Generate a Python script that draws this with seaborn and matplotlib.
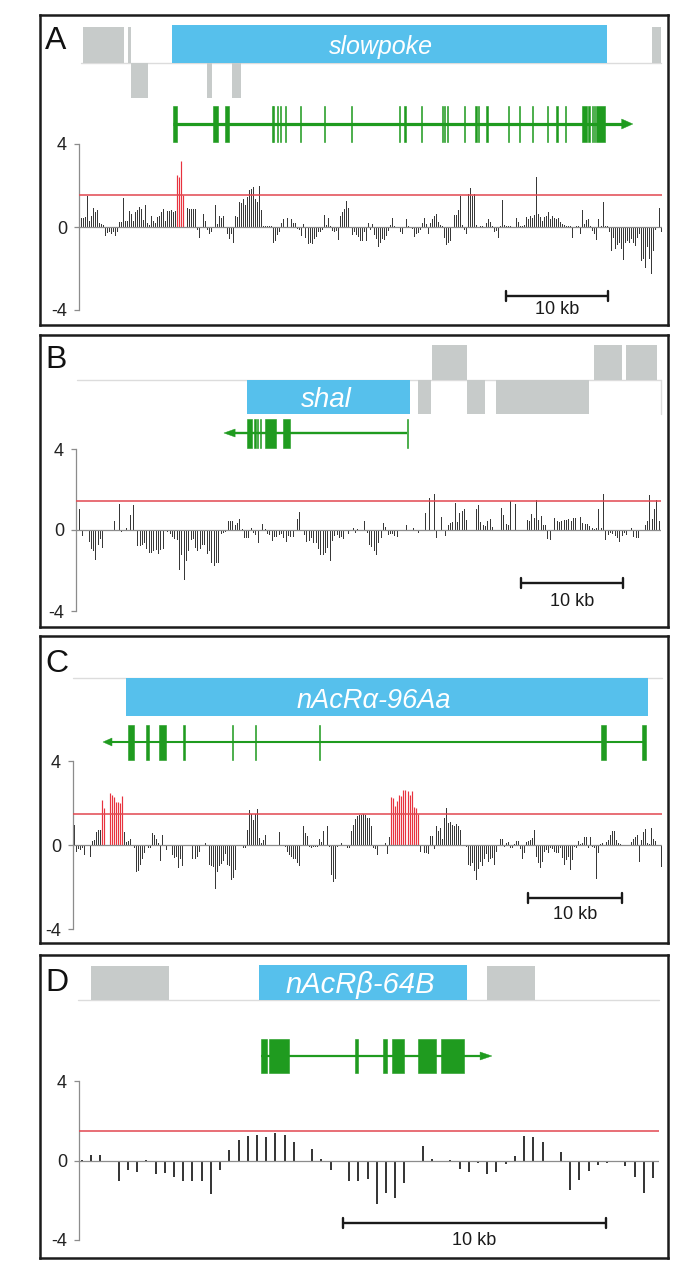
import numpy as np
import pandas as pd
import matplotlib
matplotlib.use("Agg")
import matplotlib.pyplot as plt
from matplotlib.patches import Rectangle, Polygon
import seaborn as sns

# ======================= DATA =======================
# ---- Panel A : slowpoke (kb coordinates) ----
A_upper_boxes = [(0.4, 4.4), (4.8, 5.1), (56.2, 57.1)]
A_lower_boxes = [(5.1, 6.8), (12.5, 13.0), (15.0, 15.9)]
A_gene_box = (9.1, 51.8)
A_gene_name = "slowpoke"
A_transcript = (9.2, 53.2, 54.3)          # start, arrow base, arrow tip
A_exons = [(9.2, 9.6), (13.1, 13.6), (14.3, 14.7), (18.9, 19.0), (19.05, 19.15),
           (19.4, 19.5), (19.75, 19.85), (20.15, 20.25), (21.7, 21.8), (24.0, 24.1),
           (26.65, 26.75), (31.35, 31.45), (31.9, 32.1), (33.5, 33.6), (35.55, 35.65),
           (35.8, 35.9), (36.05, 36.15), (37.7, 37.8), (38.85, 39.05), (39.1, 39.2),
           (39.95, 40.05), (42.05, 42.15), (43.1, 43.2), (44.4, 44.5), (45.85, 45.95),
           (46.8, 47.0), (47.6, 47.7), (49.3, 49.8), (49.95, 50.05), (50.25, 50.35),
           (50.45, 50.55), (50.7, 51.6)]
A_probe_span = (0.17, 57.03)
A_vals_pre = [0.45, 0.45, 0.5, 1.5, 0.3, 0.55, 0.9, 0.7, 0.8, 0.2,
              0.15, 0.1, -0.4, -0.25, -0.2, -0.3, -0.2, -0.4, -0.2, 0.25,
              0.25, 1.4, 0.3, 0.3, 0.75, 0.65, 0.3, 0.7, 0.8, 0.95,
              0.85, 0.35, 1.05, 0.2, 0.1, 0.55, 0.3, 0.2, 0.5, 0.55,
              0.7, 0.85, 0.3, 0.75, 0.75, 0.8, 0.7, 0.75]
A_vals_sig = [2.5, 2.4, 3.2, 1.55]
A_vals_post = [0, 0.9, 0.85, 0.85, 0.85, 0.85, -0.1, -0.5, 0, 0.65,
               0.3, -0.1, -0.3, -0.2, 0, 1.05, 0.15, 0.55, 0.45, 0.55,
               0, -0.3, -0.55, -0.3, -0.7, 0.55, 0.5, 1.2, 1.15, 1.35,
               1.05, 1.45, 1.8, 1.85, 1.95, 1.35, 1.2, 2.0, 0.8, 0.05,
               0.05, 0.05, 0.05, 0.05, -0.7, -0.65, -0.35, -0.2, 0.2, 0.4,
               0, 0.45, 0, 0.4, 0.2, 0.2, -0.05, -0.1, -0.4, 0.15,
               -0.5, -0.75, -0.7, -0.75, -0.55, -0.45, -0.2, -0.2, -0.1, 0.6,
               0.1, 0.45, 0.05, -0.15, -0.2, -0.15, -0.6, 0.55, 0.7, 0.85,
               1.25, 0.9, 0, -0.35, -0.2, -0.35, -0.45, -0.65, -0.65, -0.2,
               -0.65, 0.2, -0.1,
               0.15, -0.35, -0.55, -0.9, -0.7, -0.55, -0.6, -0.4, -0.15, 0.1,
               0.45, 0.05, 0, 0, -0.2, -0.3, 0, 0.4, 0.05, 0,
               -0.05, -0.45, -0.3, -0.25, -0.1, 0.2, 0.45, 0.15, -0.3, 0.2,
               0.4, 0.55, 0.65, 0.25, 0.1, 0.05, -0.5, -0.8, -0.7, -0.65,
               0, 0.6, 0.6, 0.8, 1.5, 0.1, -0.1, -0.3, 1.6, 1.9,
               1.5, 1.6, 0.1, 0, 0.05, 0.05, 0, 0.2, 0.4, 0.25,
               0.05, -0.2, -0.15, -0.5, 0.05, 1.3, 0.1, 0.05, 0.05, 0.05,
               0, 0, 0.45, 0.25, 0.05, 0.05, 0.1, 0.5, 0.4, 0.55,
               0.45, 0.6, 2.4, 0.65, 0.5, 0.3, 0.5, 0.55, 0.7, 0.4,
               0.55, 0.45, 0.4, 0.45, 0.25, 0.15, 0.1, 0.05, 0.05, 0.05,
               -0.5, 0, 0.05, 0.05, -0.3, 0.8, 0.15, 0.35, 0.4, 0.05,
               -0.15, -0.3, -0.6, 0.4, 0.05, 1.2, 0.05, 0.05, -0.2, -1.1,
               -0.5, -1.0, -0.8, -0.7, -1.0, -1.55, -0.7, -0.65, -0.7, -0.55,
               -0.7, -0.85, -0.5, -0.3, -1.6, -1.5, -1.95, -0.9, -1.5, -2.2,
               -1.1, -0.1, 0, 0.9, -0.2]
A_threshold = 1.52
A_scale = (41.9, 51.9)

# ---- Panel B : shal ----
B_upper_boxes = [(34.9, 38.3), (50.8, 53.5), (53.9, 57.0)]
B_lower_boxes = [(33.5, 34.8), (38.3, 40.1), (41.2, 50.3)]
B_gene_box = (16.8, 32.7)
B_gene_name = "shal"
B_transcript = (32.5, 15.6, 14.5)
B_exons = [(16.74, 17.28), (17.5, 17.6), (17.73, 17.83), (18.0, 18.1),
           (18.56, 19.6), (20.33, 21.0), (32.45, 32.55)]
B_probe_span = (0.32, 57.13)
B_vals = [1.05, -0.25, 0, 0, -0.55, -0.9, -1.0, -1.45, -0.7, -0.4,
          -0.85, 0, 0, 0, 0, 0.45, 0, 1.3, -0.05, 0,
          0.1, 0, 0.75, 1.25, 0, -0.75, -0.75, -0.7, -0.6, -0.9,
          -1.1, -1.1, -1.0, -0.95, -1.15, -0.95, -0.9, 0, -0.05, -0.15,
          -0.3, -0.4, -0.45, -1.95, -1.2, -2.4, -1.5, -1.0, -0.45, -0.4,
          -0.85, -1.0, -0.9, -0.7, -0.7, -1.15, -1.0, -1.6, -1.75, -1.6,
          -1.6, -0.15, -0.1, -0.05, 0.45, 0.45, 0.45, 0.25, 0.35, 0.55,
          0.05, -0.35, -0.35, -0.35, 0.1, -0.1, -0.2, -0.6, 0, 0.3,
          0.05, -0.15, -0.2, -0.5, -0.3, -0.3, -0.2, -0.15, -0.35, -0.55,
          -0.25, -0.3, -0.3, 0, 0.55, 0.9, 0, -0.2, -0.55, -0.5,
          -0.35, -0.6, -0.6, -0.9, -1.2, -1.2, -1.1, -0.85, -1.5, -0.5,
          -0.25, -0.2, -0.35, -0.3, -0.4, 0, -0.15, 0, 0.1, -0.1,
          0.05, 0, 0, 0.45, -0.1,
          -0.7, -0.8, -1.0, -1.2, -0.6, -0.35, 0.35, 0.15, -0.2, -0.15,
          -0.15, -0.25, -0.3, 0, 0, 0, 0.25, 0, 0, 0.1,
          0, -0.1, 0, 0, 0.85, 0, 1.6, 0, 1.8, -0.35,
          0, 0.65, 0, -0.25, 0.25, 0.35, 0.4, 1.35, 0.4, 0.85,
          0.95, 1.05, 0.5, 0, 0, 0, 1.05, 1.25, 0.4, 0.25,
          0.2, 0.45, 0.55, 0.15, 0, 0, 0, 1.1, 0.75, 0.3,
          0.25, 1.45, 0, 1.3, 0, 0, 0, 0, 0.5, 0.45,
          0.8, 0.6, 1.5, 0.5, 0.7, 0.25, 0.25, -0.4, -0.45, 0,
          0.6, 0.45, 0.4, 0.45, 0.5, 0.5, 0.55, 0.45, 0.6, 0.6,
          0, 0.65, 0.35, 0.3, 0.3, 0.2, 0.1, 0.05, 0.1, 1.05,
          0.1, 1.8, -0.45, -0.2, -0.1, -0.15, -0.25, -0.35, -0.55, -0.25,
          -0.1, -0.2, 0, 0.1, -0.3, -0.35, -0.35, 0, 0, 0.25,
          0.45, 1.75, 0.55, 1.05, 1.5, 0.45]
B_threshold = 1.45
B_scale = (43.6, 53.6)

# ---- Panel C : nAcRalpha-96Aa ----
C_gene_box = (5.64, 61.17)
C_gene_name = "nAcRα-96Aa"
C_transcript = (61.0, 4.15, 3.19)
C_exons = [(5.85, 6.49), (7.77, 8.09), (9.15, 9.89), (11.75, 11.9), (16.95, 17.05),
           (19.35, 19.45), (26.15, 26.3), (56.2, 56.7), (60.5, 61.0)]
C_probe_span = (0.1, 62.52)
C_vals_1 = [0.95, -0.3, -0.15, -0.2, -0.1, -0.45, 0, 0, -0.5, 0.2, 0.25, 0.6, 0.7, 0.7]
C_sig_1 = [2.15, 1.75, 0, 0, 2.5, 2.4, 2.3, 2.05, 2.05, 2.0, 2.35]
C_vals_2 = [0.6, 0.15, 0.2, 0.3, 0, -0.1, -1.25, -1.2, -0.9, -0.6,
            -0.35, 0, -0.1, -0.1, 0.55, 0.5, 0.3, 0.1, -0.7, 0.5,
            0, -0.2, 0, 0, -0.45, -0.55, -0.5, -1.05, -0.6, -0.95,
            0, 0, 0, 0, -0.6, -0.6, -0.5, -0.3, 0, 0,
            0.1, 0, -0.9, -0.95, -1.0, -2.05, -1.25, -0.95, -0.85, -0.7,
            -0.4, -0.9, -0.95, -1.6, -1.5, -1.15, 0, 0, 0, -0.1,
            -0.1, 0.7, 1.65, 1.5, 1.2, 1.5, 1.7, 0.35, 0.1, 0.25,
            0.5, 0, 0, 0, 0, 0, 0, 0.6, 0, 0,
            -0.05, -0.3, -0.45, -0.5, -0.6, -0.6, -0.8, -0.95, 0, 0.9,
            0.55, 0.45, -0.05, -0.1, -0.05, -0.05, -0.05, 0.3, 0.15, 0.65,
            0, 0.9, -0.05, -1.4, -1.7, -1.55, -0.05, 0, 0.1, 0,
            0, -0.1, -0.1, 0.65, 0.95, 1.25, 1.4, 1.45, 1.45, 1.5,
            1.45, 1.3, 1.3,
            0.9, -0.1, -0.15, -0.45, 0, 0, 0, 0.1, -0.4, 0.4]
C_sig_2 = [2.3, 2.25, 1.85, 2.1, 2.4, 2.35, 2.6, 2.6, 2.55, 2.4, 2.55, 1.8, 1.75, 1.5]
C_vals_3 = [-0.3, 0, -0.35, -0.35, -0.4, 0.45, 0.45, -0.15, 0.9, 0.65,
            0.8, 0.3, 1.3, 1.75, 1.05, 1.1, 0.95, 0.9, 1.0, 0.9,
            0.7, 0, 0, -0.05, -0.9, -0.95, -0.8, -1.2, -1.6, -1.1,
            -0.75, -0.95, -0.6, -0.4, -0.75, -0.6, -0.55, -0.9, -0.3, 0,
            0.3, 0.3, -0.05, 0.1, 0.15, -0.1, -0.1, 0.05, 0.2, 0.2,
            -0.15, -0.6, -0.35, 0.15, 0.2, 0.25, 0.35, 0.7, -0.5, -0.8,
            -1.05, -0.75, -0.3, -0.2, -0.35, -0.1, -0.15, -0.3, -0.35, -0.35,
            -0.1, -0.55, -0.9, -0.65, -0.5, -1.15, -0.65, -0.05, -0.1, 0.2,
            0.05, 0.1, 0.4, 0.4, -0.1, 0.4, -0.05, -0.1, -1.55, -0.35,
            0.05, 0.1, 0, 0.15, 0.25, 0.5, 0.65, 0.65, 0.25, 0.1,
            0.05, 0, 0, 0, 0, 0.15, 0.3, 0.4, 0.5, -0.75,
            0.25, 0.6, 0.75, 0.1, 0.05, 0.8, 0.3, 0.2, 0, 0,
            -1.0]
C_threshold = 1.5
C_scale = (48.4, 58.4)

# ---- Panel D : nAcRbeta-64B ----
D_upper_boxes = [(0.46, 3.42), (15.51, 17.34)]
D_gene_box = (6.84, 14.75)
D_gene_name = "nAcRβ-64B"
D_transcript = (6.92, 15.25, 15.7)
D_exons = [(6.92, 7.15), (7.22, 7.98), (10.49, 10.6), (11.56, 11.71),
           (11.9, 12.36), (12.89, 13.57), (13.76, 14.64)]
D_probe_span = (0.11, 21.83)
D_vals = [0.05, 0.3, 0.3, -0.05, -1.05, -0.5, -0.6, 0.05, -0.7, -0.65,
          -0.85, -1.05, -1.05, -1.05, -1.7, -0.5, 0.55, 1.05, 1.25, 1.3,
          1.2, 1.4, 1.3, 0.95, 0.0, 0.6, 0.1, -0.5, 0.0, -1.05,
          -1.05, -0.95, -2.2, -1.65, -1.9, -1.15, 0.0, 0.75, 0.1, -0.1,
          0.05, -0.45, -0.6, -0.15, -0.7, -0.6, -0.2, 0.25, 1.25, 1.2,
          0.95, -0.1, 0.45, -1.5, -1.0, -0.55, -0.25, -0.15, -0.1, -0.3,
          -0.85, -1.65, -0.9]
D_threshold = 1.5
D_scale = (10.04, 20.04)

panel_letters = ["A", "B", "C", "D"]
y_ticks = [-4, 0, 4]
scale_label = "10 kb"

# ======================= STYLE / LAYOUT =======================
sns.set_theme(style="white")
plt.rcParams["font.family"] = ["Liberation Sans", "DejaVu Sans"]

W, H = 685, 1276
fig = plt.figure(figsize=(W / 100, H / 100), dpi=100)

GREY = "#c7cbca"
BLUE = "#56c0ec"
GREEN = "#1f9b1f"
RED_LINE = "#e2474f"
RED_BAR = "#e8323e"
BAR = "#383838"
AXIS = "#8c8c8c"
FRAME = "#1c1c1c"
BASE = "#dcdcdc"
FRAME_L, FRAME_R = 40, 668


def concat(parts):
    vals, sig = [], []
    for v, s in parts:
        vals += list(v)
        sig += [s] * len(v)
    return vals, sig


A_v, A_s = concat([(A_vals_pre, False), (A_vals_sig, True), (A_vals_post, False)])
B_v, B_s = concat([(B_vals, False)])
C_v, C_s = concat([(C_vals_1, False), (C_sig_1, True), (C_vals_2, False),
                   (C_sig_2, True), (C_vals_3, False)])
D_v, D_s = concat([(D_vals, False)])

panels = [
    dict(letter=0, x0=79, ppk=10.2, top=15, bottom=325, base_y=63, baseline=(0.2, 57.1),
         up_top=27, low_bot=98, blue_top=25, side="up", upper=A_upper_boxes, lower=A_lower_boxes,
         gene=A_gene_box, name=A_gene_name, name_x=29.6, name_base=54, name_fs=18,
         tx=A_transcript, gy=124, glw=2.3, ah=5, eh=18, exons=A_exons,
         scale=A_scale, sy=296, st=314, p4=144, m4=310, bar_r=662, span=A_probe_span,
         blw=0.72, vals=A_v, sig=A_s, thr=A_threshold, lbase=49, edge=[]),
    dict(letter=1, x0=76, ppk=10.2, top=335, bottom=627, base_y=380, baseline=(0.1, 57.4),
         up_top=345, low_bot=414, blue_top=None, side="down", upper=B_upper_boxes, lower=B_lower_boxes,
         gene=B_gene_box, name=B_gene_name, name_x=24.5, name_base=407, name_fs=20,
         tx=B_transcript, gy=433, glw=1.7, ah=4, eh=14.5, exons=B_exons,
         scale=B_scale, sy=583, st=606, p4=449, m4=611, bar_r=661, span=B_probe_span,
         blw=0.72, vals=B_v, sig=B_s, thr=B_threshold, lbase=368, edge=[57.4]),
    dict(letter=2, x0=73, ppk=9.4, top=636, bottom=943, base_y=678, baseline=(0.0, 62.7),
         up_top=None, low_bot=716, blue_top=None, side="down", upper=[], lower=[],
         gene=C_gene_box, name=C_gene_name, name_x=32.0, name_base=708, name_fs=19.5,
         tx=C_transcript, gy=742, glw=1.5, ah=4, eh=17.5, exons=C_exons,
         scale=C_scale, sy=898, st=919, p4=761, m4=929, bar_r=662, span=C_probe_span,
         blw=0.72, vals=C_v, sig=C_s, thr=C_threshold, lbase=672, edge=[]),
    dict(letter=3, x0=79, ppk=26.3, top=955, bottom=1258, base_y=1000, baseline=(-0.04, 22.05),
         up_top=966, low_bot=None, blue_top=965, side="up", upper=D_upper_boxes, lower=[],
         gene=D_gene_box, name=D_gene_name, name_x=10.7, name_base=993, name_fs=21,
         tx=D_transcript, gy=1056, glw=1.6, ah=4, eh=17, exons=D_exons,
         scale=D_scale, sy=1223, st=1245, p4=1081, m4=1240, bar_r=659, span=D_probe_span,
         blw=1.44, vals=D_v, sig=D_s, thr=D_threshold, lbase=991, edge=[]),
]


def add_axes_px(l, t, r, b, z):
    return fig.add_axes([l / W, 1 - b / H, (r - l) / W, (b - t) / H], zorder=z)


for P in panels:
    x0, ppk = P["x0"], P["ppk"]

    def kb(px):
        return (px - x0) / ppk

    # ---------- track / frame axes ----------
    ax = add_axes_px(FRAME_L, P["top"], FRAME_R, P["bottom"], 1)
    ax.set_xlim(kb(FRAME_L), kb(FRAME_R))
    ax.set_ylim(P["bottom"], P["top"])
    ax.set_xticks([])
    ax.set_yticks([])
    ax.set_facecolor("white")
    for s in ax.spines.values():
        s.set_visible(True)
        s.set_color(FRAME)
        s.set_linewidth(1.8)

    by = P["base_y"]
    ax.plot(P["baseline"], [by, by], color=BASE, lw=1.0, zorder=1)
    for e in P["edge"]:
        ax.plot([e, e], [by, P["low_bot"]], color=BASE, lw=1.0, zorder=1)
    for a, b in P["upper"]:
        ax.add_patch(Rectangle((a, P["up_top"]), b - a, by - P["up_top"], color=GREY, lw=0, zorder=2))
    for a, b in P["lower"]:
        ax.add_patch(Rectangle((a, by), b - a, P["low_bot"] - by, color=GREY, lw=0, zorder=2))
    ga, gb = P["gene"]
    if P["side"] == "up":
        y1, y2 = P["blue_top"], by
    else:
        y1, y2 = by, P["low_bot"]
    ax.add_patch(Rectangle((ga, y1), gb - ga, y2 - y1, color=BLUE, lw=0, zorder=2))
    ax.text(P["name_x"], P["name_base"], P["name"], ha="center", va="baseline",
            color="white", style="italic", fontsize=P["name_fs"], zorder=3)

    # transcript model
    st, base, tip = P["tx"]
    gy = P["gy"]
    ax.plot([st, base], [gy, gy], color=GREEN, lw=P["glw"], solid_capstyle="butt", zorder=3)
    ah = P["ah"]
    ax.add_patch(Polygon([(base, gy - ah), (tip, gy), (base, gy + ah)], closed=True,
                         facecolor=GREEN, edgecolor=GREEN, lw=0.3, zorder=3))
    for a, b in P["exons"]:
        ax.add_patch(Rectangle((a, gy - P["eh"]), b - a, 2 * P["eh"], facecolor=GREEN,
                               edgecolor=GREEN, lw=0.4, zorder=3))

    # scale bar
    sa, sb = P["scale"]
    sy = P["sy"]
    ax.plot([sa, sb], [sy, sy], color="#1a1a1a", lw=1.7, solid_capstyle="butt", zorder=3)
    ax.plot([sa, sa], [sy - 5, sy + 5], color="#1a1a1a", lw=1.7, zorder=3)
    ax.plot([sb, sb], [sy - 5, sy + 5], color="#1a1a1a", lw=1.7, zorder=3)
    ax.text((sa + sb) / 2, P["st"], scale_label, ha="center", va="baseline",
            fontsize=13, color="#1a1a1a", zorder=3)

    fig.text(45 / W, 1 - P["lbase"] / H, panel_letters[P["letter"]], fontsize=23,
             ha="left", va="baseline", color="#111111")

    # ---------- bar axes ----------
    axb = add_axes_px(x0, P["p4"], P["bar_r"], P["m4"], 2)
    vals = np.asarray(P["vals"], dtype=float)
    pos = np.linspace(P["span"][0], P["span"][1], len(vals))
    df = pd.DataFrame({"pos": pos, "val": vals, "sig": np.array(P["sig"], dtype=bool)})
    ns = df[~df["sig"]]
    sg = df[df["sig"]]
    axb.vlines(ns["pos"], 0, ns["val"], colors=BAR, linewidth=P["blw"],
               antialiased=False, zorder=1)
    if len(sg):
        axb.vlines(sg["pos"], 0, sg["val"], colors=RED_BAR, linewidth=0.85,
                   antialiased=True, zorder=1.5)
    axb.set_xlim(0, kb(P["bar_r"]))
    axb.set_ylim(-4, 4)
    axb.patch.set_alpha(0)
    axb.axhline(0, color=AXIS, lw=0.9, zorder=2)
    axb.axhline(P["thr"], color=RED_LINE, lw=1.1, zorder=3)
    sns.despine(ax=axb, top=True, right=True, bottom=True, left=False)
    axb.spines["left"].set_color(AXIS)
    axb.spines["left"].set_linewidth(0.9)
    axb.set_xticks([])
    axb.set_yticks(y_ticks)
    axb.set_yticklabels([str(t) for t in y_ticks])
    axb.tick_params(axis="y", left=True, length=3.6, width=0.9, color=AXIS,
                    labelsize=13, labelcolor="#222222", pad=5, direction="out")
    axb.set_xlabel("")
    axb.set_ylabel("")

fig.savefig("out.png", dpi=100, facecolor="white")
